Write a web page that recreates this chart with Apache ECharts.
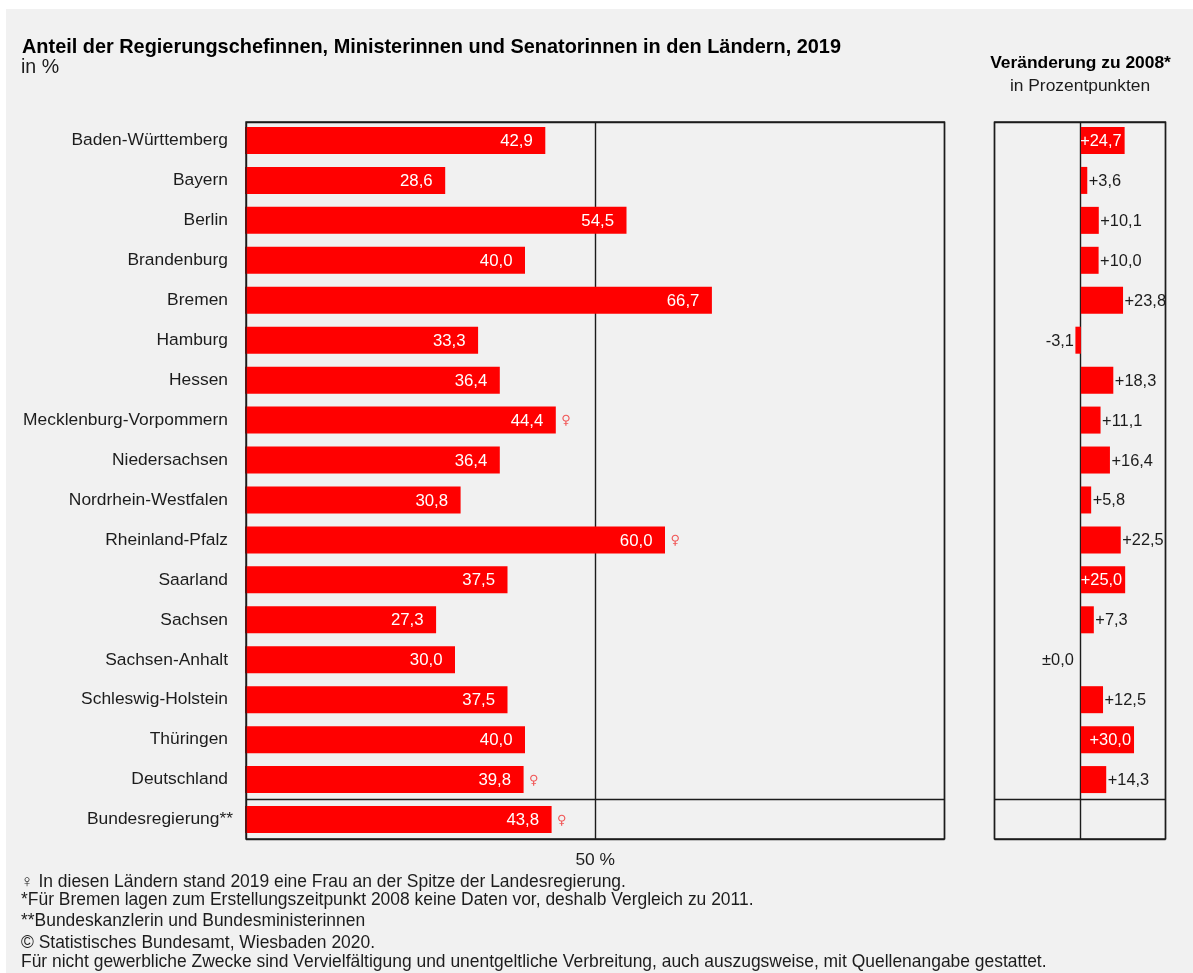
<!DOCTYPE html>
<html>
<head>
<meta charset="utf-8">
<style>
html,body{margin:0;padding:0;background:#fff;width:1193px;height:973px;overflow:hidden}
#bg{position:absolute;left:6px;top:9px;right:0;bottom:0;background:#f1f1f1}
#chart{position:absolute;left:0;top:0;width:1193px;height:973px}
</style>
<script src="https://cdn.jsdelivr.net/npm/echarts@6/dist/echarts.min.js"></script>
</head>
<body>
<div id="bg"></div>
<div id="chart"></div>
<script>
const categories = ['Baden-Württemberg','Bayern','Berlin','Brandenburg','Bremen','Hamburg','Hessen','Mecklenburg-Vorpommern','Niedersachsen','Nordrhein-Westfalen','Rheinland-Pfalz','Saarland','Sachsen','Sachsen-Anhalt','Schleswig-Holstein','Thüringen','Deutschland','Bundesregierung**'];
const shares = [42.9,28.6,54.5,40.0,66.7,33.3,36.4,44.4,36.4,30.8,60.0,37.5,27.3,30.0,37.5,40.0,39.8,43.8];
const changes = [24.7,3.6,10.1,10.0,23.8,-3.1,18.3,11.1,16.4,5.8,22.5,25.0,7.3,0.0,12.5,30.0,14.3];
const femaleLed = ['Mecklenburg-Vorpommern','Rheinland-Pfalz','Deutschland','Bundesregierung**'];
const footnotes = [
 '♀ In diesen Ländern stand 2019 eine Frau an der Spitze der Landesregierung.',
 '*Für Bremen lagen zum Erstellungszeitpunkt 2008 keine Daten vor, deshalb Vergleich zu 2011.',
 '**Bundeskanzlerin und Bundesministerinnen',
 '© Statistisches Bundesamt, Wiesbaden 2020.',
 'Für nicht gewerbliche Zwecke sind Vervielfältigung und unentgeltliche Verbreitung, auch auszugsweise, mit Quellenangabe gestattet.'
];
const footnoteTops = [874,892,913,935,954];
const FONT = '"Liberation Sans", Arial, sans-serif';
const RED = '#ff0000', INK = '#1c1c1c', FRAME = '#1c1c1c';
const fmt = v => v.toFixed(1).replace('.',',');
const fmtSigned = v => (v>0?'+':v<0?'-':'±') + fmt(Math.abs(v));

function text(t,left,top,size,weight,align){
  return {text:t,left:left,top:top,textAlign:align||'left',padding:0,itemGap:0,
    textStyle:{fontFamily:FONT,fontSize:size,fontWeight:weight||'normal',color:weight==='bold'?'#000':INK}};
}
const frameAxisX = (min,max,interval,label) => ({type:'value',min,max,interval,
  axisLine:{show:false},axisTick:{show:false},
  splitLine:{show:true,lineStyle:{color:FRAME,width:1.4}},
  axisLabel:label?{show:true,margin:13,fontFamily:FONT,fontSize:17.4,color:INK,
     formatter:v=>v===50?'50 %':''}:{show:false}});
const frameAxisY = () => ({type:'value',inverse:true,min:0,max:18,interval:17,
  axisLine:{show:false},axisTick:{show:false},axisLabel:{show:false},
  splitLine:{show:true,lineStyle:{color:FRAME,width:1.4}}});

const option = {
  animation:false,
  backgroundColor:'transparent',
  title:[
    text('Anteil der Regierungschefinnen, Ministerinnen und Senatorinnen in den Ländern, 2019',22,37.5,19.9,'bold'),
    text('in %',21,58,19.6),
    text('Veränderung zu 2008*',1080.5,54.5,17.4,'bold','center'),
    text('in Prozentpunkten',1080,78,17.4,'normal','center'),
    ...footnotes.map((t,i)=>text(t,i===0?20.5:21,footnoteTops[i],17.45))
  ],
  grid:[
    {left:246,top:122,width:698.5,height:717,show:true,borderColor:FRAME,borderWidth:1.4,backgroundColor:'transparent',z:5},
    {left:994.5,top:122,width:171,height:717,show:true,borderColor:FRAME,borderWidth:1.4,backgroundColor:'transparent',z:5},
    {left:245,top:120.5,width:700,height:719},
    {left:995.9,top:120.5,width:170,height:719}
  ],
  xAxis:[
    {gridIndex:0,...frameAxisX(0,100,50,true)},
    {gridIndex:1,...frameAxisX(-48,48,48,false)},
    {gridIndex:2,type:'value',min:0,max:100,show:false},
    {gridIndex:3,type:'value',min:-48,max:48,show:false}
  ],
  yAxis:[
    {gridIndex:0,...frameAxisY()},
    {gridIndex:1,...frameAxisY()},
    {gridIndex:2,type:'category',inverse:true,
      data:categories.map((c,i)=>({value:c,textStyle:{padding:[0,i===categories.length-1?0:5,7,0]}})),
      axisLine:{show:false},axisTick:{show:false},
      axisLabel:{interval:0,margin:12,fontFamily:FONT,fontSize:17.4,color:INK,align:'right'}},
    {gridIndex:3,type:'category',inverse:true,data:categories,show:false}
  ],
  series:[
    {type:'bar',name:'Anteil',xAxisIndex:2,yAxisIndex:2,barWidth:27,z:3,
      itemStyle:{color:RED},
      data:shares,
      label:{show:true,position:'insideRight',distance:12.5,offset:[0,1],color:'#fff',fontFamily:FONT,fontSize:16.8,
        formatter:p=>fmt(p.value)}},
    {type:'scatter',name:'Frau an der Spitze',xAxisIndex:2,yAxisIndex:2,symbolSize:0,z:4,
      data:categories.map((c,i)=>femaleLed.includes(c)?[shares[i],c]:null).filter(Boolean),
      label:{show:true,position:'right',distance:5.5,offset:[0,1],formatter:'♀',color:'#f03030',
        fontFamily:'"DejaVu Sans"',fontSize:13}},
    {type:'bar',name:'Veränderung',xAxisIndex:3,yAxisIndex:3,barWidth:27,z:3,
      itemStyle:{color:RED},
      data:changes.map(v=>{
        const inside = v>=24;
        return {value:v,label:{show:true,
          position: inside?'insideRight':(v>0?'right':'left'),
          distance: inside?3:(v===0?7:1.5),
          offset:[0,1],
          color: inside?'#fff':INK,
          fontFamily:FONT,fontSize:16.4,
          formatter:fmtSigned(v)}};
      })}
  ]
};
const chart = echarts.init(document.getElementById('chart'),null,{renderer:'canvas'});
chart.setOption(option);
</script>
</body>
</html>
